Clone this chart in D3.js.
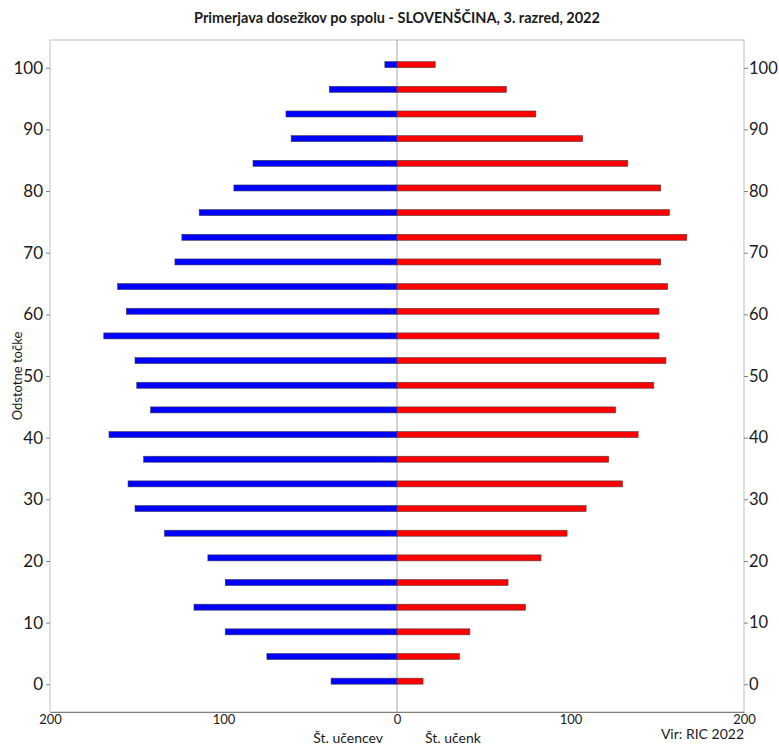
<!DOCTYPE html>
<html>
<head>
<meta charset="utf-8">
<script src="https://cdn.jsdelivr.net/npm/d3@7"></script>
<style>
  body { margin: 0; background: #fff; }
  text { font-family: Lato, "Noto Sans", sans-serif; fill: #1a1a1a; }
</style>
</head>
<body>
<div id="chart"></div>
<script>
// ------ DATA ------
const scores = [100, 96, 92, 88, 84, 80, 76, 72, 68, 64, 60, 56, 52, 48, 44, 40, 36, 32, 28, 24, 20, 16, 12, 8, 4, 0]
const boys   = [7, 39, 64, 61, 83, 94, 114, 124, 128, 161, 156, 169, 151, 150, 142, 166, 146, 155, 151, 134, 109, 99, 117, 99, 75, 38]
const girls  = [22, 63, 80, 107, 133, 152, 157, 167, 152, 156, 151, 151, 155, 148, 126, 139, 122, 130, 109, 98, 83, 64, 74, 42, 36, 15]
const x_ticks = [-200, -100, 0, 100, 200]
const y_ticks = [0, 10, 20, 30, 40, 50, 60, 70, 80, 90, 100]

const title = "Primerjava dosežkov po spolu - SLOVENŠČINA, 3. razred, 2022"

// ------ LAYOUT ------
const width = 779, height = 747
const margin = {top: 40, right: 35, bottom: 35, left: 50}

const svg = d3.select("div#chart").append("svg")
  .attr("width", width)
  .attr("height", height)

const x = d3.scaleLinear()
  .domain([-200, 200])
  .range([margin.left, width - margin.right])

const y = d3.scaleLinear()
  .domain([-4.5, 104.5])
  .range([height - margin.bottom, margin.top])

const bar_h = 6

// frame
svg.append("rect")
  .attr("x", x(-200)).attr("y", y(104.5))
  .attr("width", x(200) - x(-200)).attr("height", y(-4.5) - y(104.5))
  .attr("fill", "none").attr("stroke", "#c8c8c8").attr("stroke-width", 1.2)

// center line
svg.append("line")
  .attr("x1", x(0)).attr("x2", x(0))
  .attr("y1", y(104.5)).attr("y2", y(-4.5))
  .attr("stroke", "#a8a8a8").attr("stroke-width", 1)

// bars
const rows = scores.map(function(s, i) { return {score: s, boys: boys[i], girls: girls[i]} })

svg.append("g").selectAll("rect")
  .data(rows).join("rect")
  .attr("x", function(d) { return x(-d.boys) })
  .attr("y", function(d) { return y(d.score + 0.5) - bar_h / 2 })
  .attr("width", function(d) { return x(0) - x(-d.boys) })
  .attr("height", bar_h)
  .attr("fill", "#0000ff")
  .attr("stroke", "#3a3a5a").attr("stroke-width", 0.6)

svg.append("g").selectAll("rect")
  .data(rows).join("rect")
  .attr("x", x(0))
  .attr("y", function(d) { return y(d.score + 0.5) - bar_h / 2 })
  .attr("width", function(d) { return x(d.girls) - x(0) })
  .attr("height", bar_h)
  .attr("fill", "#ff0000")
  .attr("stroke", "#5a3a3a").attr("stroke-width", 0.6)

// ------ AXES ------
const x_axis = svg.append("g")
  .attr("transform", "translate(0," + y(-4.5) + ")")
  .call(d3.axisBottom(x).tickValues(x_ticks).tickSize(0).tickPadding(3)
    .tickFormat(function(d) { return Math.abs(d) }))
x_axis.select(".domain").attr("stroke", "#808080").attr("stroke-width", 1.2)
x_axis.selectAll("text").style("font-size", "13px").attr("fill", "#1a1a1a")

const y_left = svg.append("g")
  .attr("transform", "translate(" + x(-200) + ",0)")
  .call(d3.axisLeft(y).tickValues(y_ticks).tickSize(4).tickPadding(3))
y_left.select(".domain").remove()
y_left.selectAll("line").attr("stroke", "#808080")
y_left.selectAll("text").style("font-size", "17px").attr("fill", "#1a1a1a")

const y_right = svg.append("g")
  .attr("transform", "translate(" + x(200) + ",0)")
  .call(d3.axisRight(y).tickValues(y_ticks).tickSize(4).tickPadding(1))
y_right.select(".domain").remove()
y_right.selectAll("line").attr("stroke", "#808080")
y_right.selectAll("text").style("font-size", "16.5px").attr("fill", "#1a1a1a")

// ------ TEXTS ------
svg.append("text")
  .attr("x", x(0)).attr("y", 23)
  .attr("text-anchor", "middle")
  .style("font-size", "14.5px").style("font-weight", "bold")
  .text(title)

svg.append("text")
  .attr("transform", "translate(22," + y(50) + ") rotate(-90)")
  .attr("text-anchor", "middle")
  .style("font-size", "13px")
  .text("Odstotne točke")

svg.append("text")
  .attr("x", x(0) - 14).attr("y", 743)
  .attr("text-anchor", "end")
  .style("font-size", "14px")
  .text("Št. učencev")

svg.append("text")
  .attr("x", x(0) + 28).attr("y", 743)
  .attr("text-anchor", "start")
  .style("font-size", "14px")
  .text("Št. učenk")

svg.append("text")
  .attr("x", x(200)).attr("y", 739)
  .attr("text-anchor", "end")
  .style("font-size", "14px")
  .text("Vir: RIC 2022")
</script>
</body>
</html>
